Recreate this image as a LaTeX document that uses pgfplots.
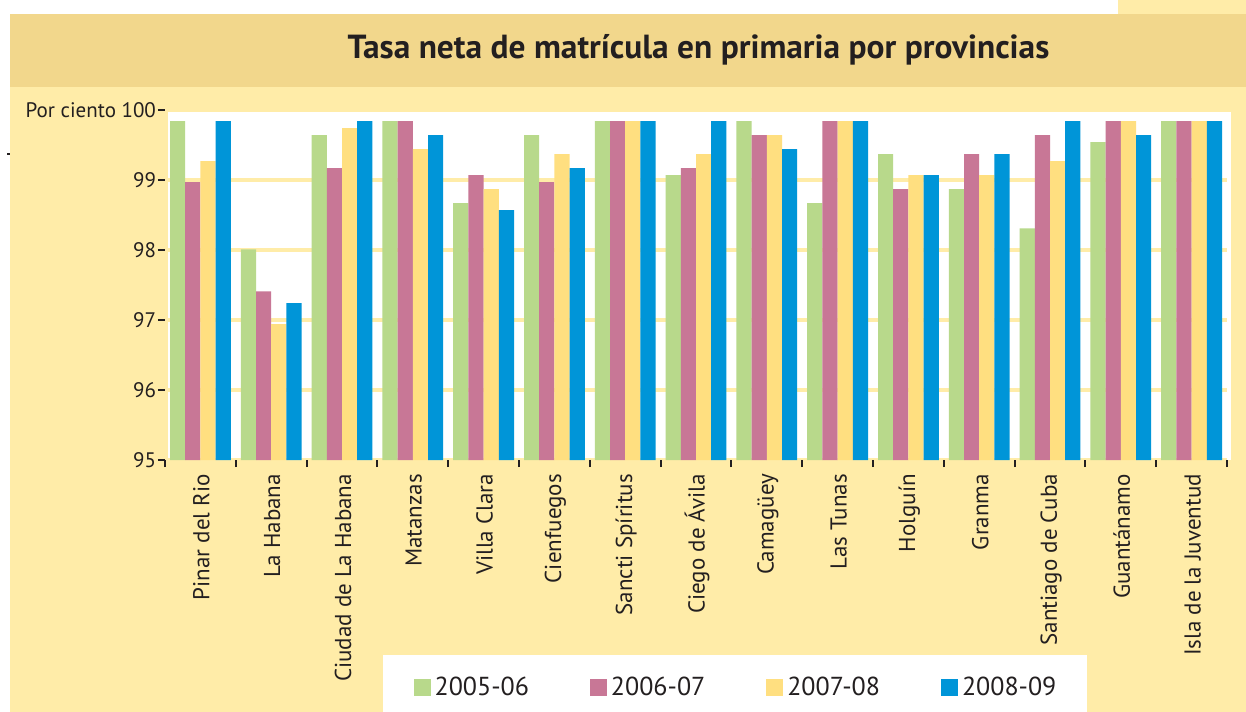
\documentclass[border=0pt]{standalone}
\usepackage{fontspec}
\setmainfont{PT Sans}
\usepackage{pgfplots}
\pgfplotsset{compat=1.18}

\definecolor{cGreen}{HTML}{B8D98B}
\definecolor{cPink}{HTML}{C87796}
\definecolor{cYellow}{HTML}{FFDF80}
\definecolor{cBlue}{HTML}{0095D8}
\definecolor{band}{HTML}{F2D78C}
\definecolor{panel}{HTML}{FFECA8}
\definecolor{ink}{HTML}{231F20}

\begin{document}
\begin{tikzpicture}
% page background (1px = 0.5bp)
\fill[white] (0,0) rectangle (623bp,-356bp);
\fill[panel] (559bp,0) rectangle (623bp,-7bp);
\fill[band] (5bp,-7bp) rectangle (623bp,-43.5bp);
\fill[panel] (5bp,-43.5bp) rectangle (623bp,-356bp);
\fill[white] (84bp,-56bp) rectangle (615.5bp,-230bp);
\fill[white] (191.5bp,-327.5bp) rectangle (543.5bp,-356bp);
\draw[ink, line width=0.8bp] (3.5bp,-77bp) -- (5bp,-77bp);
\node[text=ink, font=\fontsize{16.7bp}{19bp}\selectfont\bfseries] at (349.25bp,-25bp)
  {Tasa neta de matrícula en primaria por provincias};

\begin{axis}[
    at={(82.5bp,-230bp)}, anchor=south west,
    scale only axis,
    width=531bp, height=175bp,
    ybar=0pt, bar width=7.6bp,
    xmin=-0.5, xmax=14.5,
    ymin=95, ymax=100,
    axis line style={draw=none},
    tickpos=left, tick align=outside,
    xtick={0,...,14},
    xticklabels={Pinar del Rio, La Habana, Ciudad de La Habana, Matanzas,
      Villa Clara, Cienfuegos, Sancti Spíritus, Ciego de Ávila, Camagüey,
      Las Tunas, Holguín, Granma, Santiago de Cuba, Guantánamo,
      Isla de la Juventud},
    major x tick style={draw=none},
    minor xtick={-0.5,0.5,...,14.5},
    minor x tick style={ink, line width=1bp},
    minor tick length=3.5bp,
    ytick={95,96,97,98,99,100},
    yticklabels={95,96,97,98,99,Por ciento 100},
    major y tick style={ink, line width=1bp},
    major tick length=3.5bp,
    ymajorgrids=true,
    grid style={panel, line width=1.75bp},
    /pgf/number format/assume math mode=true,
    tick label style={text=ink},
    xticklabel style={rotate=90, anchor=east, yshift=-0.5bp,
      font=\fontsize{11.5bp}{13bp}\selectfont},
    yticklabel style={xshift=2.5bp, font=\fontsize{10.5bp}{12bp}\selectfont},
    legend style={at={(0.5386,-0.651)}, anchor=center, draw=none, fill=none,
      legend columns=4, text=ink, font=\fontsize{13bp}{15bp}\selectfont,
      /tikz/every even column/.append style={column sep=28.5bp}},
    legend image code/.code={\fill[#1] (0bp,-4.2bp) rectangle (8.5bp,4.2bp);},
]
\addplot[fill=cGreen, draw=none] coordinates {
 (0,99.84) (1,98.01) (2,99.64) (3,99.84) (4,98.67) (5,99.64) (6,99.84) (7,99.07)
 (8,99.84) (9,98.67) (10,99.37) (11,98.87) (12,98.31) (13,99.54) (14,99.84)};
\addlegendentry{2005-06}
\addplot[fill=cPink, draw=none] coordinates {
 (0,98.97) (1,97.41) (2,99.17) (3,99.84) (4,99.07) (5,98.97) (6,99.84) (7,99.17)
 (8,99.64) (9,99.84) (10,98.87) (11,99.37) (12,99.64) (13,99.84) (14,99.84)};
\addlegendentry{2006-07}
\addplot[fill=cYellow, draw=none] coordinates {
 (0,99.27) (1,96.94) (2,99.74) (3,99.44) (4,98.87) (5,99.37) (6,99.84) (7,99.37)
 (8,99.64) (9,99.84) (10,99.07) (11,99.07) (12,99.27) (13,99.84) (14,99.84)};
\addlegendentry{2007-08}
\addplot[fill=cBlue, draw=none] coordinates {
 (0,99.84) (1,97.24) (2,99.84) (3,99.64) (4,98.57) (5,99.17) (6,99.84) (7,99.84)
 (8,99.44) (9,99.84) (10,99.07) (11,99.37) (12,99.84) (13,99.64) (14,99.84)};
\addlegendentry{2008-09}
\end{axis}

\pgfresetboundingbox
\useasboundingbox (0,0) rectangle (623bp,-356bp);
\end{tikzpicture}
\end{document}
